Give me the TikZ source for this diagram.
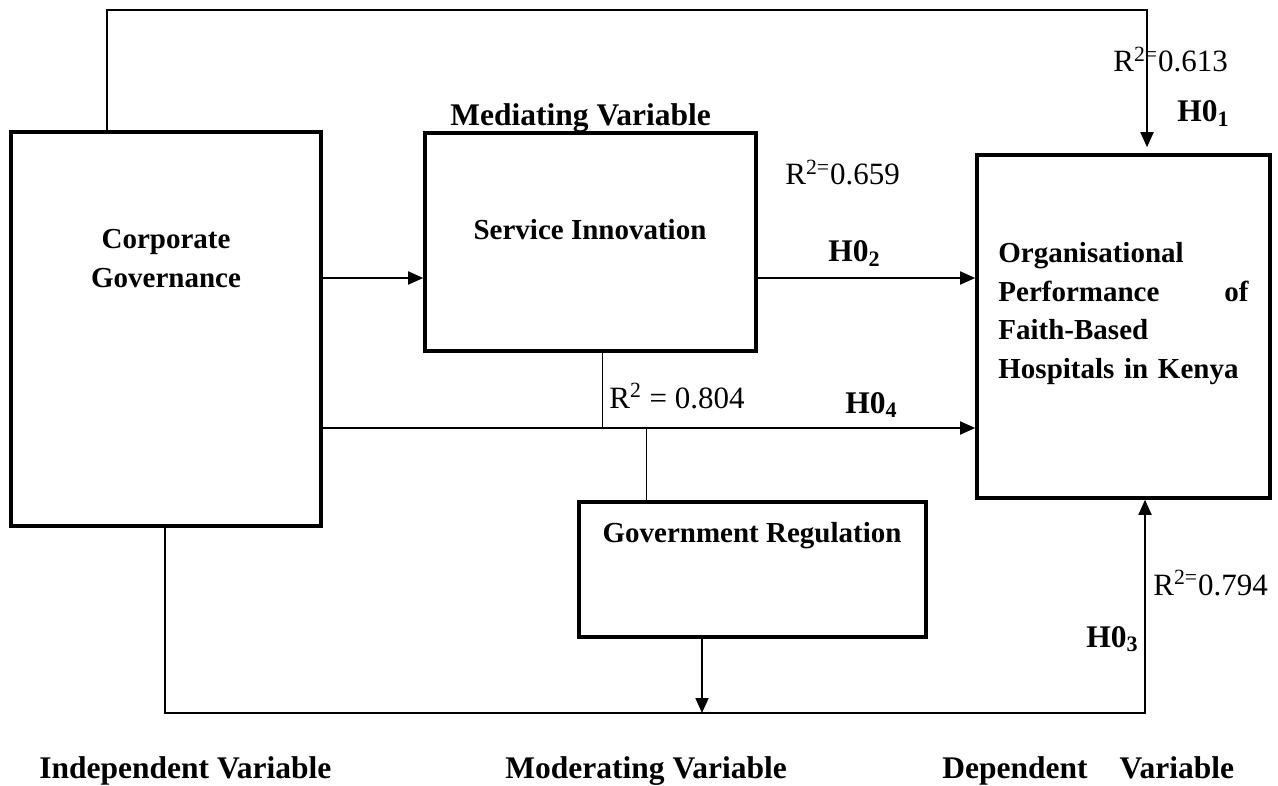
\documentclass[tikz,border=0pt]{standalone}
\usepackage{fontspec}
\setmainfont{Liberation Serif}
\usetikzlibrary{arrows.meta}

\begin{document}
\begin{tikzpicture}
[x=0.5pt,y=-0.5pt,
  boxDecorate/.style={draw,line width=1.8pt,fill=white,inner sep=0pt},
  textDecorate/.style={inner sep=0pt,font=\fontsize{14.5}{19.25}\selectfont\bfseries},
  headDecorate/.style={inner sep=0pt,anchor=base west,font=\fontsize{15.75}{19}\selectfont\bfseries},
  valueDecorate/.style={inner sep=0pt,anchor=base west,font=\fontsize{15.5}{19}\selectfont},
  lineDecorate/.style={line width=0.9pt},
  thinDecorate/.style={line width=0.5pt},
  arrowDecorate/.style={lineDecorate,-{Triangle[length=7.5pt,width=6.5pt]}}]
\useasboundingbox (0,0) rectangle (1278,786);
%% headings
\foreach \name/\x/\y/\txt in {
  med/450/126/Mediating Variable,
  ind/39/778/Independent Variable,
  mdr/505/778/Moderating Variable,
  dep/942/778/Dependent\hspace{16pt}Variable}
{
  \node[headDecorate] (\name) at (\x,\y) {\txt};
}
%% hypotheses
\foreach \name/\x/\y/\k in {h1/1177/122/1, h2/828/262/2, h4/845/413/4, h3/1086/647/3}
{
  \node[headDecorate] (\name) at (\x,\y) {H0\textsubscript{\k}};
}
%% R squared values
\node[valueDecorate] (r1) at (1113,72) {R\textsuperscript{2=}0.613};
\node[valueDecorate] (r2) at (785,185) {R\textsuperscript{2=}0.659};
\node[valueDecorate] (r4) at (609,408) {R\textsuperscript{2} = 0.804};
\node[valueDecorate] (r3) at (1153,595) {R\textsuperscript{2=}0.794};
%% boxes
\node[boxDecorate,minimum width=155pt,minimum height=197pt] (cg) at (166,329) {};
\node[boxDecorate,minimum width=165.5pt,minimum height=109pt] (si) at (590.5,242) {};
\node[boxDecorate,minimum width=146.5pt,minimum height=171.5pt] (op) at (1123.5,326.5) {};
\node[boxDecorate,minimum width=173.5pt,minimum height=67.5pt] (gr) at (752.5,569.5) {};
\node[textDecorate,align=center,anchor=base] (cgtext) at (166,287) {Corporate\\Governance};
\node[textDecorate,anchor=base] (sitext) at (590,240) {Service Innovation};
\node[textDecorate,anchor=base] (grtext) at (752,542) {Government Regulation};
\node[textDecorate,text width=125pt,align=left,anchor=base west] (optext) at (998,263)
  {Organisational\\Performance\hfill of\\Faith-Based\\Hospitals in Kenya};
%% joints
\coordinate (upper) at (0,278);
\coordinate (lower) at (0,428);
\coordinate (topleft) at (107,10);
\coordinate (topright) at (1147,10);
\coordinate (botleft) at (165,713);
\coordinate (botright) at (1145,713);
\coordinate (sijoin) at (602,428);
\coordinate (grjoin) at (646,428);
\coordinate (grdrop) at (702,713);
%% connectors
\draw[arrowDecorate,shorten >=3pt] (cg.north -| topleft) -- (topleft) -- (topright) -- (topright |- op.north);
\draw[arrowDecorate] (cg.east |- upper) -- (si.west |- upper);
\draw[arrowDecorate] (si.east |- upper) -- (op.west |- upper);
\draw[arrowDecorate] (cg.east |- lower) -- (op.west |- lower);
\draw[thinDecorate] (si.south -| sijoin) -- (sijoin);
\draw[thinDecorate] (grjoin) -- (grjoin |- gr.north);
\draw[arrowDecorate] (cg.south -| botleft) -- (botleft) -- (botright) -- (botright |- op.south);
\draw[arrowDecorate] (gr.south -| grdrop) -- (grdrop);
\end{tikzpicture}
\end{document}
